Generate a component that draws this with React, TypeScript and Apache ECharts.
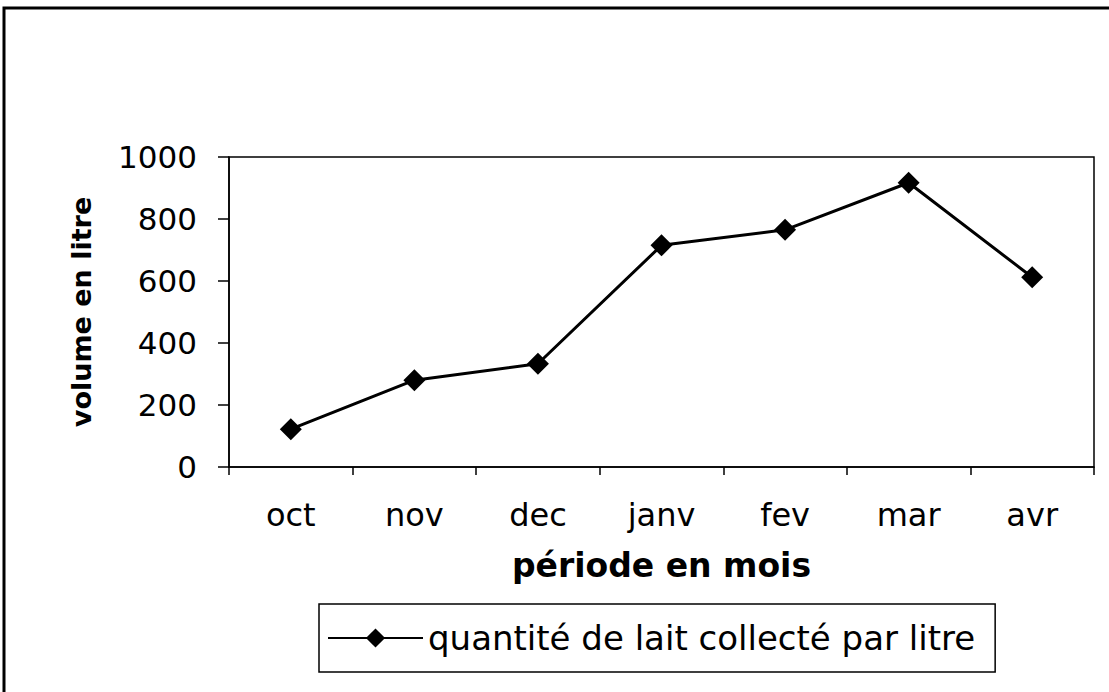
import React, { useEffect, useRef } from "react";
import * as echarts from "echarts";

const months = ["oct", "nov", "dec", "janv", "fev", "mar", "avr"];
const quantite = [122, 280, 333, 715, 765, 917, 612];
const seriesName = "quantité de lait collecté par litre";
const yAxisName = "volume en litre";
const xAxisName = "période en mois";

const FONT = "DejaVu Sans";

export default function App() {
  const ref = useRef<HTMLDivElement>(null);
  useEffect(() => {
    if (!ref.current) return;
    const chart = echarts.init(ref.current, null, { renderer: "svg" });
    chart.setOption({
      animation: false,
      backgroundColor: "#ffffff",
      textStyle: { fontFamily: FONT, color: "#000" },
      graphic: [
        {
          type: "rect",
          shape: { x: 4, y: 8, width: 1130, height: 720 },
          style: { fill: "none", stroke: "#000", lineWidth: 3 },
          silent: true,
        },
      ],
      grid: { left: 229, top: 157, right: 15, bottom: 225, show: true, borderColor: "#000", borderWidth: 1.5, backgroundColor: "transparent" },
      legend: {
        left: 319,
        top: 604,
        padding: [17, 20, 17, 8],
        borderColor: "#000",
        borderWidth: 1.5,
        itemWidth: 95,
        itemHeight: 24,
        itemGap: 5,
        textStyle: { fontFamily: FONT, fontSize: 34, color: "#000" },
        data: [seriesName],
      },
      xAxis: {
        type: "category",
        data: months,
        boundaryGap: true,
        axisLine: { lineStyle: { color: "#000", width: 1.5 } },
        axisTick: { show: true, inside: false, length: 8, lineStyle: { color: "#000", width: 1.5 } },
        axisLabel: { margin: 32, fontFamily: FONT, fontSize: 32, color: "#000" },
        name: xAxisName,
        nameLocation: "middle",
        nameGap: 82,
        nameTextStyle: { fontFamily: FONT, fontSize: 33, fontWeight: "bold", color: "#000" },
        splitLine: { show: false },
      },
      yAxis: {
        type: "value",
        min: 0,
        max: 1000,
        interval: 200,
        axisLine: { show: true, lineStyle: { color: "#000", width: 1.5 } },
        axisTick: { show: true, inside: false, length: 11, lineStyle: { color: "#000", width: 1.5 } },
        axisLabel: { margin: 32, fontFamily: FONT, fontSize: 31, color: "#000", formatter: (v: number) => String(v) },
        splitLine: { show: false },
        name: yAxisName,
        nameLocation: "middle",
        nameGap: 134,
        nameTextStyle: { fontFamily: FONT, fontSize: 27, fontWeight: "bold", color: "#000" },
      },
      series: [
        {
          name: seriesName,
          type: "line",
          data: quantite,
          symbol: "diamond",
          symbolSize: 22,
          lineStyle: { color: "#000", width: 3 },
          itemStyle: { color: "#000" },
        },
      ],
    });
    return () => chart.dispose();
  }, []);
  return <div ref={ref} style={{ position: "fixed", left: 0, top: 0, width: 1109, height: 692 }} />;
}
